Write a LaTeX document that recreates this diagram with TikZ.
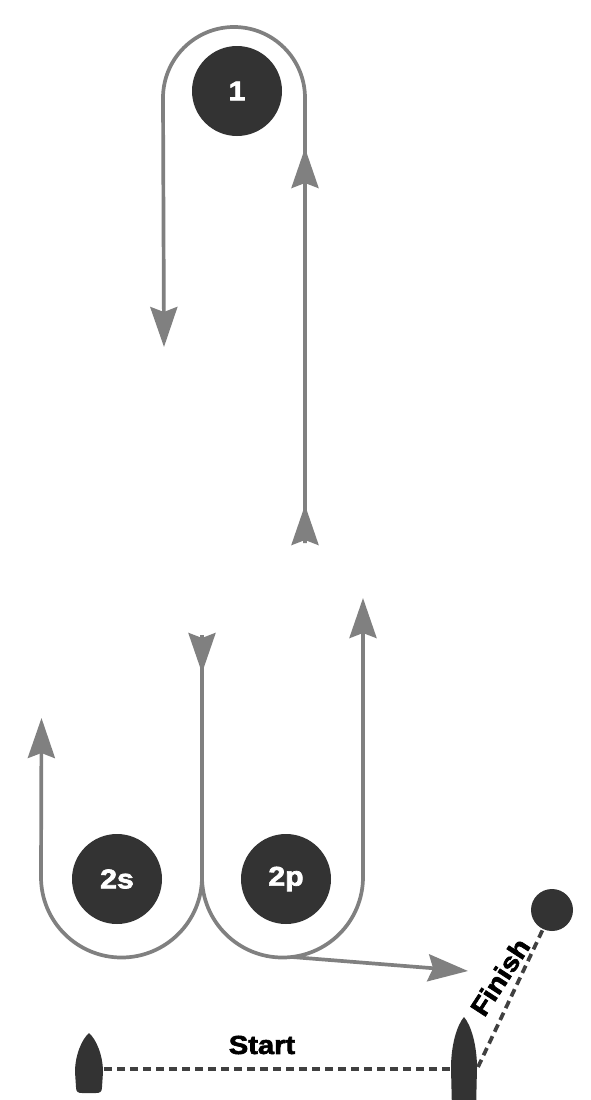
\documentclass[tikz,border=0pt]{standalone}
\usepackage{fontspec}
\newfontfamily\heavy[BoldFeatures={FakeBold=2.5,FakeStretch=1.12}]{Liberation Sans}
\usetikzlibrary{arrows.meta}
\definecolor{markc}{HTML}{333333}
\definecolor{pathc}{HTML}{808080}
\definecolor{dashc}{HTML}{404040}
\begin{document}
\begin{tikzpicture}[x=1pt,y=-1pt,
  >={Stealth[length=40pt,width=27pt,inset=5pt]},
  course/.style={draw=pathc, line width=3.7pt},
  tipline/.style={->, draw=pathc, fill=pathc, line width=3.7pt},
  buoy/.style={circle, fill=markc, inner sep=0pt, text=white, font=\heavy\bfseries\fontsize{27}{27}\selectfont},
  lay/.style={draw=dashc, dash pattern=on 8pt off 5pt, line width=3.7pt},
  hull/.style={fill=markc},
  lbl/.style={font=\heavy\bfseries\fontsize{26}{26}\selectfont, text=black, inner sep=0pt}]
\useasboundingbox[fill=white] (0,0) rectangle (590,1100);
% marks
\node[buoy, minimum size=90pt] (m1) at (237,91) {1};
\node[buoy, minimum size=90pt] (m2s) at (117,879) {2s};
\node[buoy, minimum size=90pt] (m2p) at (286,879) {2p};
\node[buoy, minimum size=42pt] (fin) at (552,910) {};
% course legs
\coordinate (up0) at (305,543);
\coordinate (dn0) at (202,640);
\coordinate (gate) at (202,877);
\draw[course,->] (up0) -- (305,98) arc[start angle=0,end angle=-180,radius=71] -- (164,347);
\draw[tipline] (305,543) -- (305,505);
\draw[tipline] (305,190) -- (305,148);
\draw[course] (dn0) -- (gate);
\draw[tipline] (202,635) -- (202,673);
\draw[course,->] (gate) arc[start angle=0,end angle=180,radius=80.5] -- (41.5,718);
\draw[course,->] (gate) arc[start angle=180,end angle=0,radius=80.5] -- (363,598);
\coordinate (fl0) at (292,957);
\coordinate (fl1) at (468,971);
\draw[course,->] (fl0) -- (fl1);
% boats
\fill[hull] (89,1033) .. controls (96,1039) and (103,1055) .. (103,1072) -- (102,1087) .. controls (102,1092) and (100,1093) .. (96,1093) -- (82,1093) .. controls (78,1093) and (76,1092) .. (76,1087) -- (75,1072) .. controls (75,1055) and (82,1039) .. (89,1033) -- cycle;
\fill[hull] (464,1017) .. controls (471,1025) and (477,1045) .. (477,1068) -- (476,1110) -- (452,1110) -- (451,1068) .. controls (451,1045) and (457,1025) .. (464,1017) -- cycle;
\coordinate (sb) at (104,1069);
\coordinate (fb) at (450,1069);
\coordinate (fb2) at (478,1067);
\draw[lay] (sb) -- (fb);
\draw[lay] (fb2) -- (fin);
% labels
\node[lbl] (st) at (262,1045) {Start};
\node[lbl, rotate=57] (fi) at (500,977) {Finish};
\end{tikzpicture}
\end{document}
